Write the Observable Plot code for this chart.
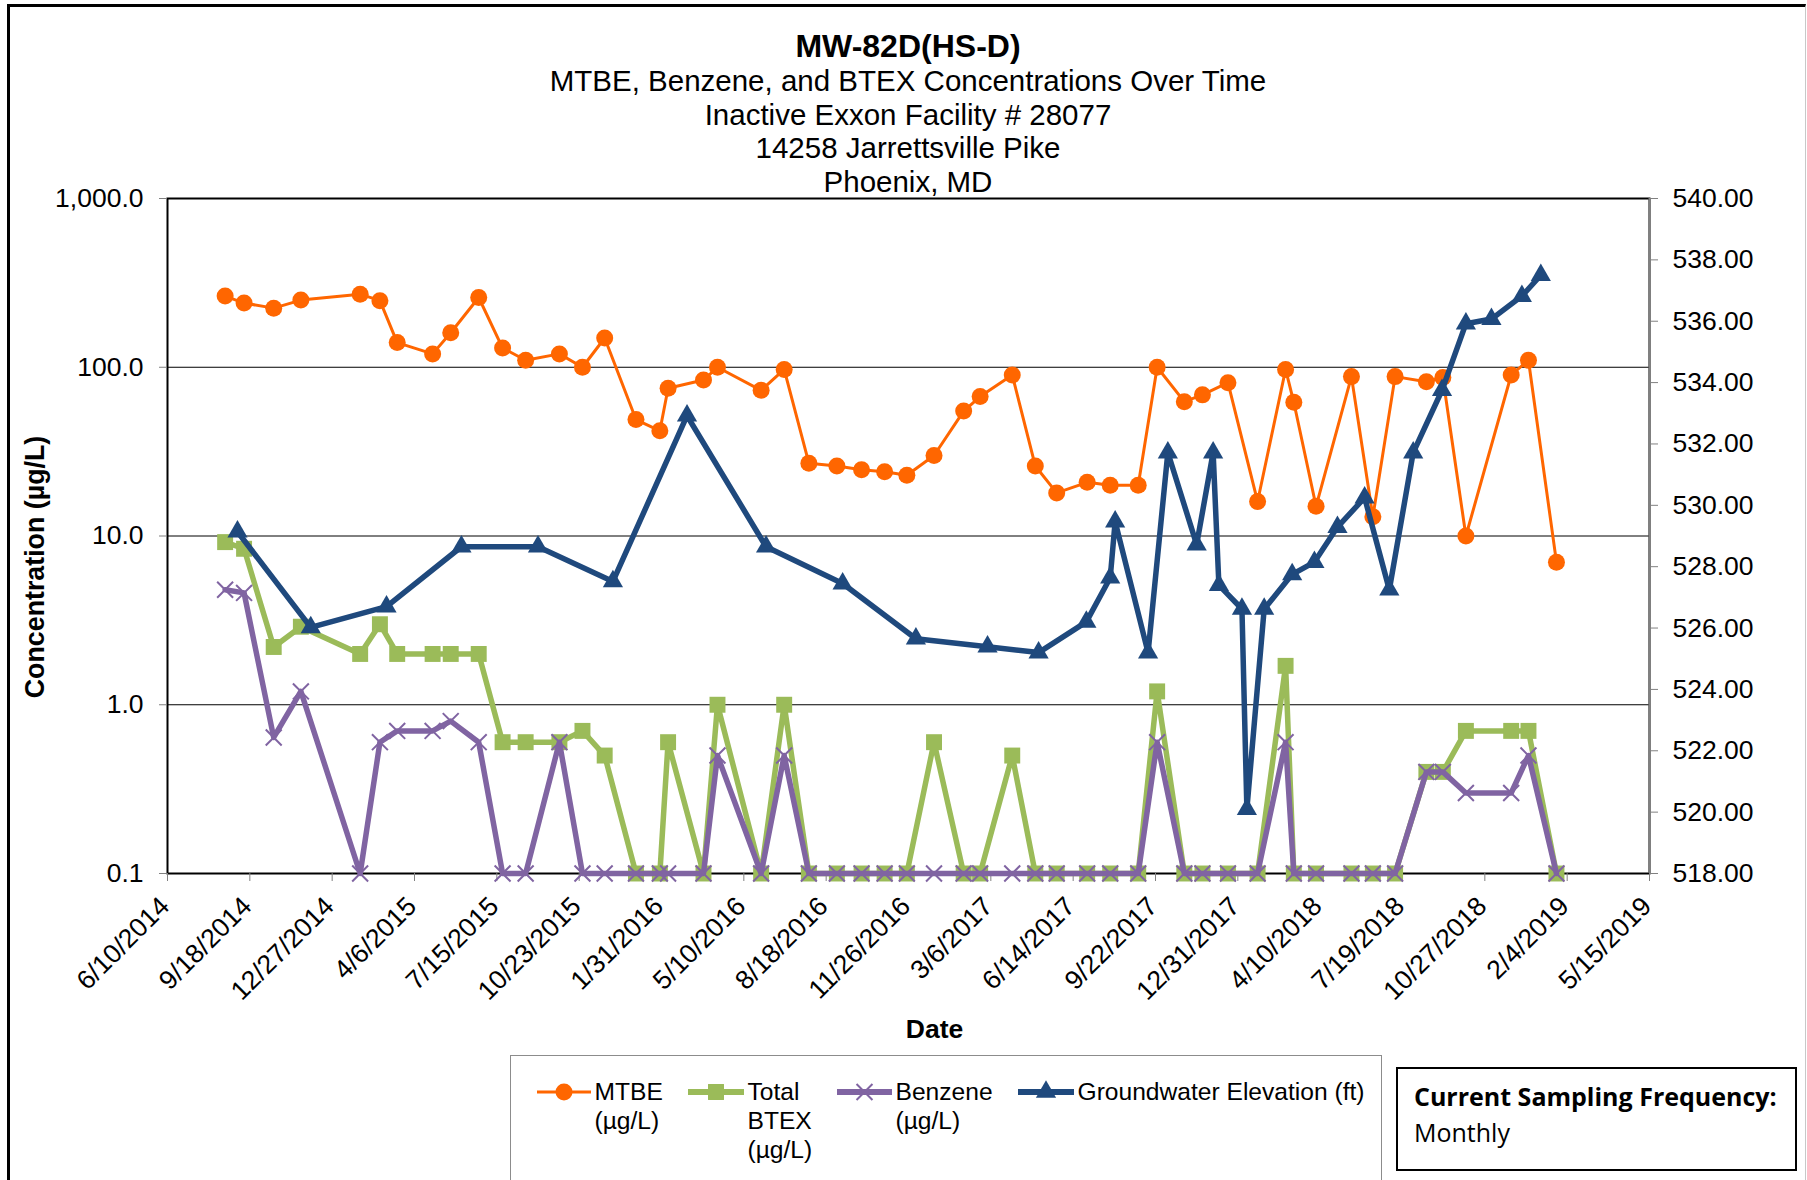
<!DOCTYPE html>
<html>
<head>
<meta charset="utf-8">
<script src="https://cdn.jsdelivr.net/npm/d3@7"></script>
<script src="https://cdn.jsdelivr.net/npm/@observablehq/plot@0.6"></script>
<style>
  body { margin: 0; background: #fff; }
  #page { position: relative; width: 1807px; height: 1180px; overflow: hidden; background: #fff;
          font-family: "Liberation Sans", Arial, sans-serif; color: #000; }
  #outer { position: absolute; left: 7px; top: 4px; width: 1795px; height: 1200px;
           border-left: 3px solid #000; border-top: 3px solid #000; border-right: 1px solid #c8c8c8; }
  .tl { position: absolute; left: 167px; width: 1482px; text-align: center; white-space: nowrap; line-height: 1; }
  #chart { position: absolute; left: 0; top: 160px; }
  #legend { position: absolute; left: 510px; top: 1055px; width: 870px; height: 200px; border: 1.5px solid #8c8c8c; }
  .lt { position: absolute; font-size: 24.6px; line-height: 29px; white-space: nowrap; }
  .sw { position: absolute; overflow: visible; }
  #freq { position: absolute; left: 1396px; top: 1067px; width: 397px; height: 100px; border: 2px solid #000;
          font-family: "Open Sans", "Noto Sans", sans-serif; }
  #freq div { position: absolute; left: 16px; font-size: 25px; line-height: 36px; white-space: nowrap; }
</style>
</head>
<body>
<div id="page">
  <div id="outer"></div>
  <div id="titles"></div>
  <div id="chart"></div>
  <div id="legend"></div>
  <div id="freq"></div>
</div>
<script>
// ---------- text ----------
const titleLines = ["MW-82D(HS-D)", "MTBE, Benzene, and BTEX Concentrations Over Time",
  "Inactive Exxon Facility # 28077", "14258 Jarrettsville Pike", "Phoenix, MD"];
const yLabel = "Concentration (µg/L)";
const xLabel = "Date";
const seriesNames = [["MTBE", "(µg/L)"], ["Total", "BTEX", "(µg/L)"], ["Benzene", "(µg/L)"], ["Groundwater Elevation (ft)"]];
const seriesColors = ["#FF6600", "#9BBB59", "#8064A2", "#1F497D"];
const freqLines = ["Current Sampling Frequency:", "Monthly"];

// ---------- data ----------
const sampleDates = [
  "8/19/2014","9/11/2014","10/17/2014","11/19/2014","1/30/2015","2/23/2015","3/16/2015","4/28/2015","5/20/2015","6/23/2015",
  "7/22/2015","8/19/2015","9/29/2015","10/27/2015","11/23/2015","12/31/2015","1/29/2016","2/8/2016","3/22/2016","4/8/2016",
  "5/31/2016","6/28/2016","7/28/2016","8/31/2016","9/30/2016","10/28/2016","11/24/2016","12/27/2016","2/1/2017","2/21/2017",
  "4/1/2017","4/29/2017","5/25/2017","7/1/2017","7/29/2017","9/1/2017","9/24/2017","10/27/2017","11/18/2017","12/19/2017",
  "1/24/2018","2/27/2018","3/9/2018","4/5/2018","5/18/2018","6/13/2018","7/10/2018","8/17/2018","9/6/2018","10/4/2018",
  "11/28/2018","12/19/2018","1/22/2019"];
const mtbe = [
  264, 240, 224, 250, 271, 248, 140, 120, 160, 259,
  130, 110, 120, 100, 149, 49, 42, 75, 84, 100,
  73, 97, 27, 26, 24.7, 24, 22.9, 30, 55, 67,
  90, 26, 18, 20.8, 20, 20, 100, 62.5, 68.6, 81,
  16, 97, 62, 15, 88, 13, 88, 82, 87, 10,
  90, 110, 7.0];
const btex = [
  9.2, 8.4, 2.2, 2.9, 2.0, 3.0, 2.0, 2.0, 2.0, 2.0,
  0.6, 0.6, 0.6, 0.7, 0.5, 0.1, 0.1, 0.6, 0.1, 1.0,
  0.1, 1.0, 0.1, 0.1, 0.1, 0.1, 0.1, 0.6, 0.1, 0.1,
  0.5, 0.1, 0.1, 0.1, 0.1, 0.1, 1.2, 0.1, 0.1, 0.1,
  0.1, 1.7, 0.1, 0.1, 0.1, 0.1, 0.1, 0.4, 0.4, 0.7,
  0.7, 0.7, 0.1];
const benzene = [
  4.8, 4.6, 0.64, 1.2, 0.1, 0.6, 0.7, 0.7, 0.8, 0.6,
  0.1, 0.1, 0.6, 0.1, 0.1, 0.1, 0.1, 0.1, 0.1, 0.5,
  0.1, 0.5, 0.1, 0.1, 0.1, 0.1, 0.1, 0.1, 0.1, 0.1,
  0.1, 0.1, 0.1, 0.1, 0.1, 0.1, 0.6, 0.1, 0.1, 0.1,
  0.1, 0.6, 0.1, 0.1, 0.1, 0.1, 0.1, 0.4, 0.4, 0.3,
  0.3, 0.5, 0.1];
const gwDates = [
  "9/3/2014","12/1/2014","3/3/2015","6/2/2015","9/3/2015","12/3/2015","3/2/2016","6/6/2016","9/7/2016","12/5/2016",
  "3/2/2017","5/3/2017","6/30/2017","7/29/2017","8/4/2017","9/13/2017","10/7/2017","11/11/2017","12/1/2017","12/8/2017",
  "1/5/2018","1/11/2018","2/1/2018","3/7/2018","4/3/2018","5/1/2018","6/3/2018","7/3/2018","8/1/2018","9/5/2018",
  "10/4/2018","11/4/2018","12/11/2018","1/3/2019"];
const gwElev = [
  529.14, 526.02, 526.70, 528.65, 528.65, 527.52, 532.92, 528.65, 527.45, 525.65,
  525.39, 525.20, 526.20, 527.64, 529.47, 525.20, 531.72, 528.72, 531.72, 527.40,
  526.62, 520.10, 526.62, 527.75, 528.15, 529.29, 530.25, 527.25, 531.72, 533.75,
  535.92, 536.07, 536.82, 537.50];
const xTickLabels = ["6/10/2014","9/18/2014","12/27/2014","4/6/2015","7/15/2015","10/23/2015","1/31/2016","5/10/2016",
  "8/18/2016","11/26/2016","3/6/2017","6/14/2017","9/22/2017","12/31/2017","4/10/2018","7/19/2018","10/27/2018",
  "2/4/2019","5/15/2019"];
const leftTicks = [0.1, 1, 10, 100, 1000];
const gridValues = [1, 10, 100];
const rightTicks = [518, 520, 522, 524, 526, 528, 530, 532, 534, 536, 538, 540];

// ---------- helpers ----------
const parseDate = s => { const [m, d, y] = s.split("/").map(Number); return new Date(Date.UTC(y, m - 1, d)); };
const fmtDate = d => `${d.getUTCMonth() + 1}/${d.getUTCDate()}/${d.getUTCFullYear()}`;
const lo = leftTicks[0], hi = leftTicks[leftTicks.length - 1];
const eLo = rightTicks[0], eHi = rightTicks[rightTicks.length - 1];
const decades = Math.log10(hi) - Math.log10(lo);
const toConc = e => Math.pow(10, Math.log10(lo) + (e - eLo) / (eHi - eLo) * decades);

const xTicks = xTickLabels.map(parseDate);
const samples = sampleDates.map((s, i) => ({date: parseDate(s), mtbe: mtbe[i], btex: btex[i], benzene: benzene[i]}));
const gw = gwDates.map((s, i) => ({date: parseDate(s), elev: gwElev[i], v: toConc(gwElev[i])}));
const rightRows = rightTicks.map(e => ({elev: e, v: toConc(e), label: e.toFixed(2)}));

const FONT = "'Liberation Sans', Arial, sans-serif";
const sym = {mtbe: {symbol: "circle", r: 8.5}, btex: {symbol: "square", r: 9}, benzene: {symbol: "times", r: 7.3}, gw: {symbol: "triangle", r: 7.5}};

// ---------- titles ----------
const titleBaselines = [57, 91, 124.6, 158.2, 191.8];
const titles = d3.select("#titles");
titleLines.forEach((t, i) => {
  const fs = i === 0 ? 32 : 29.5;
  titles.append("div").attr("class", "tl")
    .style("top", (titleBaselines[i] - 0.8465 * fs) + "px")
    .style("font-size", fs + "px")
    .style("font-weight", i === 0 ? "bold" : "normal")
    .text(t);
});

// ---------- chart ----------
const chart = Plot.plot({
  width: 1807,
  height: 880,
  marginTop: 38,
  marginBottom: 167,
  marginLeft: 167,
  marginRight: 158,
  style: {fontFamily: FONT, fontSize: "26.5px", color: "#000", background: "transparent", overflow: "visible"},
  x: {type: "utc", domain: [xTicks[0], xTicks[xTicks.length - 1]]},
  y: {type: "log", domain: [lo, hi]},
  marks: [
    Plot.ruleY(gridValues, {stroke: "#000", strokeWidth: 1}),
    Plot.frame({stroke: "#000", strokeWidth: 2}),
    Plot.ruleX([xTicks[xTicks.length - 1]], {stroke: "#808080", strokeWidth: 2}),
    Plot.axisY(leftTicks, {anchor: "left", label: null, tickSize: 8, tickPadding: 16, stroke: "#808080", fill: "#000",
      tickFormat: d3.format(",.1f")}),
    Plot.axisY(rightRows.map(d => d.v), {anchor: "right", label: null, tickSize: 8, stroke: "#808080", fill: "none", tickFormat: () => ""}),
    Plot.text(rightRows, {y: "v", text: "label", frameAnchor: "right", textAnchor: "start", lineAnchor: "middle", dx: 23, fill: "#000"}),
    Plot.axisX(xTicks, {anchor: "bottom", label: null, tickSize: 8, stroke: "#808080", fill: "none", tickFormat: () => ""}),
    Plot.axisX(xTicks, {anchor: "bottom", label: null, tickSize: 8, tickPadding: 4, stroke: "none", fill: "#000",
      tickRotate: -45, textAnchor: "end", lineAnchor: "top", dx: -10, dy: 9, tickFormat: fmtDate}),
    Plot.text([yLabel], {frameAnchor: "left", textAnchor: "middle", lineAnchor: "middle", dx: -132, dy: 31, rotate: -90,
      fontWeight: "bold", fontSize: 26.8}),
    Plot.text([xLabel], {frameAnchor: "bottom", textAnchor: "middle", lineAnchor: "middle", dx: 26, dy: 156,
      fontWeight: "bold", fontSize: 26.5}),
    // MTBE
    Plot.line(samples, {x: "date", y: "mtbe", stroke: seriesColors[0], strokeWidth: 3, strokeLinejoin: "round"}),
    Plot.dot(samples, {x: "date", y: "mtbe", ...sym.mtbe, fill: seriesColors[0]}),
    // Total BTEX
    Plot.line(samples, {x: "date", y: "btex", stroke: seriesColors[1], strokeWidth: 5.5, strokeLinejoin: "round"}),
    Plot.dot(samples, {x: "date", y: "btex", ...sym.btex, fill: seriesColors[1]}),
    // Benzene
    Plot.line(samples, {x: "date", y: "benzene", stroke: seriesColors[2], strokeWidth: 5.5, strokeLinejoin: "round"}),
    Plot.dot(samples, {x: "date", y: "benzene", ...sym.benzene, stroke: seriesColors[2], strokeWidth: 2}),
    // Groundwater elevation (right axis)
    Plot.line(gw, {x: "date", y: "v", stroke: seriesColors[3], strokeWidth: 5.5, strokeLinejoin: "round"}),
    Plot.dot(gw, {x: "date", y: "v", ...sym.gw, fill: seriesColors[3]})
  ]
});
document.getElementById("chart").appendChild(chart);

// ---------- legend ----------
const legend = d3.select("#legend");
const legendItems = [
  {sw: [537, 591], tx: 595, w: 3, s: sym.mtbe, filled: true},
  {sw: [688, 744], tx: 748, w: 6, s: sym.btex, filled: true},
  {sw: [837, 892], tx: 896, w: 6, s: sym.benzene, filled: false},
  {sw: [1018, 1074], tx: 1078, w: 6, s: sym.gw, filled: true}
];
const symMap = {circle: d3.symbolCircle, square: d3.symbolSquare, times: d3.symbolTimes, triangle: d3.symbolTriangle};
const boxL = 510 + 1.5, boxT = 1055 + 1.5;
legendItems.forEach((it, i) => {
  const w = it.sw[1] - it.sw[0];
  const svg = legend.append("svg").attr("class", "sw")
    .attr("width", w).attr("height", 24)
    .style("left", (it.sw[0] - boxL) + "px").style("top", (1092 - 12 - boxT) + "px");
  svg.append("line").attr("x1", 0).attr("x2", w).attr("y1", 12).attr("y2", 12)
    .attr("stroke", seriesColors[i]).attr("stroke-width", it.w);
  const p = svg.append("path").attr("transform", `translate(${w / 2},12)`)
    .attr("d", d3.symbol(symMap[it.s.symbol], Math.PI * it.s.r * it.s.r)());
  if (it.filled) p.attr("fill", seriesColors[i]);
  else p.attr("fill", "none").attr("stroke", seriesColors[i]).attr("stroke-width", 2);
  const t = legend.append("div").attr("class", "lt")
    .style("left", (it.tx - boxL) + "px").style("top", (1077 - boxT) + "px");
  t.html(seriesNames[i].map(s => s.replace(/&/g, "&amp;").replace(/</g, "&lt;")).join("<br>"));
});

// ---------- sampling frequency box ----------
const freq = d3.select("#freq");
freq.append("div").style("top", (1078 - 1069) + "px").style("font-weight", "bold").text(freqLines[0]);
freq.append("div").style("top", (1114 - 1069) + "px").text(freqLines[1]);
</script>
</body>
</html>
